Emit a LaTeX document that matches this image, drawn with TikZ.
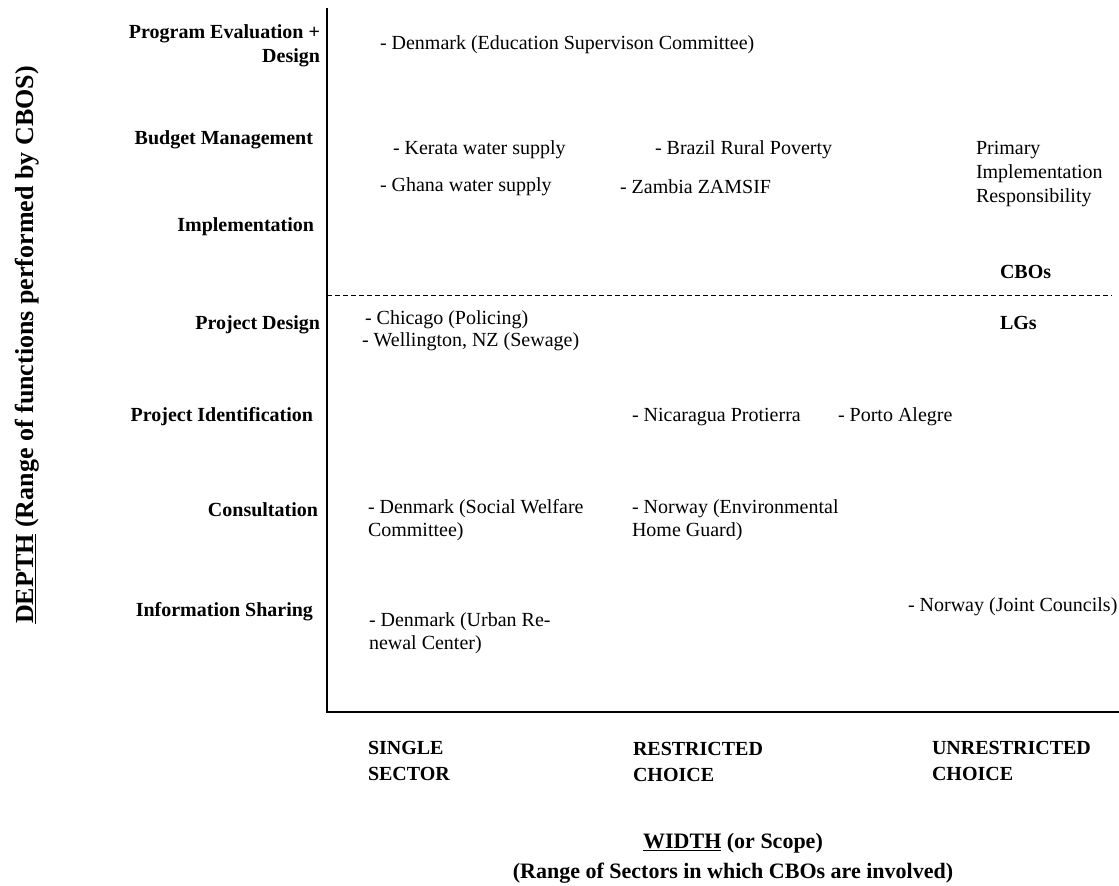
\documentclass[tikz,border=0pt]{standalone}
\usepackage{fontspec}
\setmainfont{Liberation Serif}
\begin{document}
\begin{tikzpicture}[x=1pt,y=-1pt,
  every node/.style={inner sep=0pt,outer sep=0pt},
  lab/.style={anchor=east,font=\fontsize{20}{24}\selectfont\bfseries,align=right},
  ent/.style={anchor=west,font=\fontsize{20}{23}\selectfont,align=left},
  col/.style={anchor=west,font=\fontsize{20}{26}\selectfont\bfseries,align=left},
  axisline/.style={line width=2pt},
  divline/.style={line width=1pt,dash pattern=on 5pt off 3pt}]
\useasboundingbox (0,0) rectangle (1119,886);
% axes
\coordinate (top) at (327,8);
\coordinate (origin) at (327,712);
\coordinate (right) at (1119,712);
\coordinate (dl) at (327,295);
\coordinate (dr) at (1112,295);
\draw[axisline] (top) -- (origin) -- (right);
\draw[divline] (dl) -- (dr);
% rotated axis title
\node[rotate=90,font=\fontsize{26}{30}\selectfont\bfseries] (ytitle) at (27,345) {\underline{DEPTH} (Range of functions performed by CBOS)};
% left labels
\node[lab] (l1) at (320,46) {Program Evaluation +\\Design};
\node[lab] (l2) at (313,140) {Budget Management};
\node[lab] (l3) at (314,227) {Implementation};
\node[lab] (l4) at (320,325) {Project Design};
\node[lab] (l5) at (313,417) {Project Identification};
\node[lab] (l6) at (318,510) {Consultation};
\node[lab] (l7) at (313,612) {Information Sharing};
% entries
\node[ent] (e1) at (380,45) {- Denmark (Education Supervison Committee)};
\node[ent] (e2) at (393,150) {- Kerata water supply};
\node[ent] (e3) at (380,187) {- Ghana water supply};
\node[ent] (e4) at (655,150) {- Brazil Rural Poverty};
\node[ent] (e5) at (620,187) {- Zambia ZAMSIF};
\node[ent,font=\fontsize{20}{24}\selectfont] (e6) at (976,174) {Primary\\Implementation\\Responsibility};
\node[ent,font=\fontsize{20}{24}\selectfont\bfseries] (cbo) at (1000,272) {CBOs};
\node[ent,font=\fontsize{20}{24}\selectfont\bfseries] (lg) at (1000,323) {LGs};
\node[ent] (e7) at (365,320) {- Chicago (Policing)};
\node[ent] (e8) at (362,342) {- Wellington, NZ (Sewage)};
\node[ent] (e9) at (632,417) {- Nicaragua Protierra};
\node[ent] (e10) at (838,417) {- Porto Alegre};
\node[ent] (e11) at (368,520) {- Denmark (Social Welfare\\Committee)};
\node[ent] (e12) at (632,520) {- Norway (Environmental\\Home Guard)};
\node[ent] (e13) at (369,633) {- Denmark (Urban Re-\\newal Center)};
\node[ent] (e14) at (908,607) {- Norway (Joint Councils)};
% bottom columns
\node[col] (c1) at (368,761) {SINGLE\\SECTOR};
\node[col] (c2) at (633,762) {RESTRICTED\\CHOICE};
\node[col] (c3) at (932,761) {UNRESTRICTED\\CHOICE};
% x title
\node[font=\fontsize{22}{30}\selectfont\bfseries,align=center] (xtitle) at (733,858) {\underline{WIDTH} (or Scope)\\(Range of Sectors in which CBOs are involved)};
\end{tikzpicture}
\end{document}
